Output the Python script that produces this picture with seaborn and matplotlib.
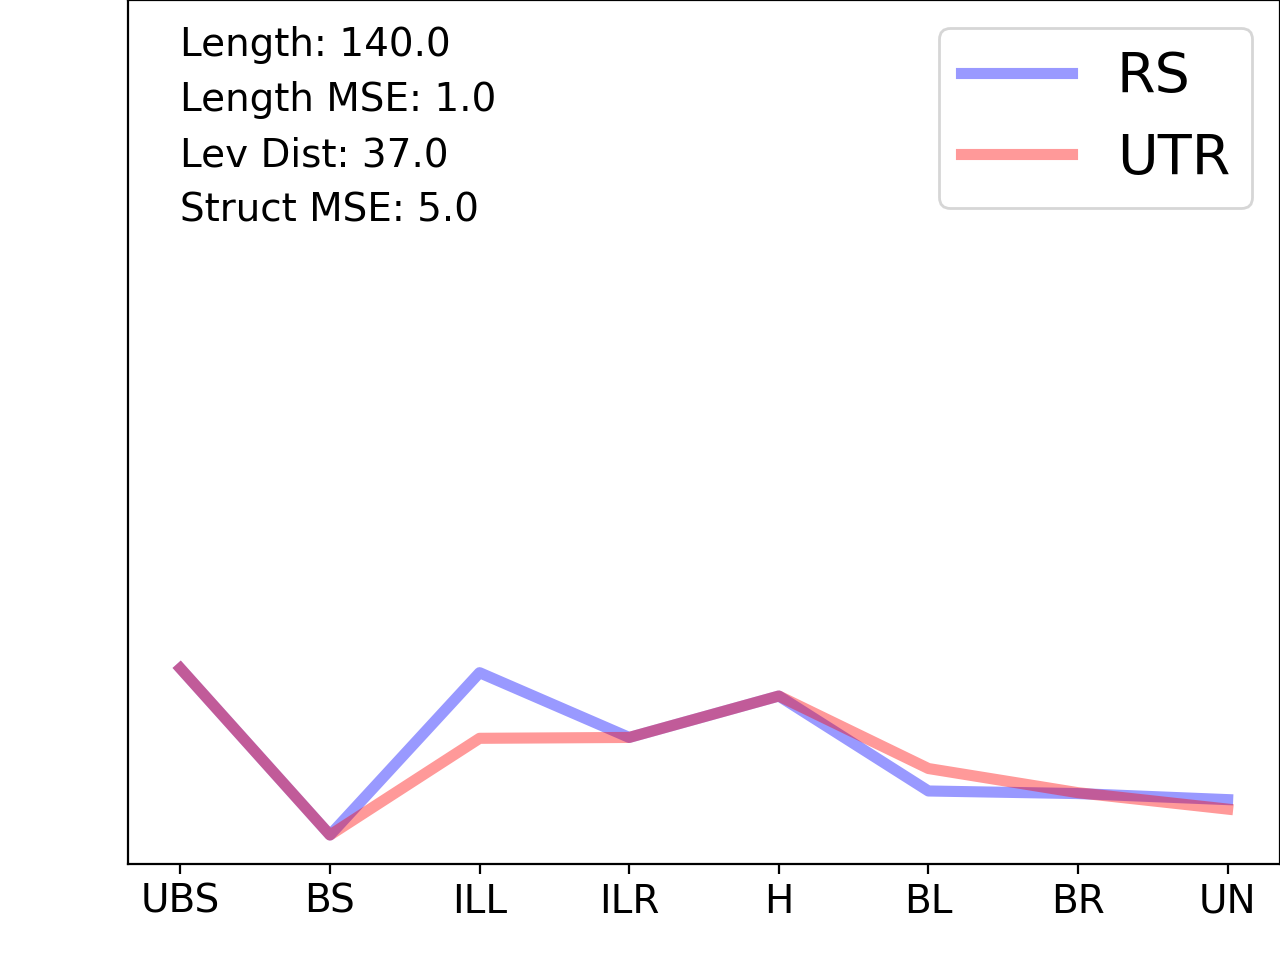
import pandas as pd
import matplotlib
matplotlib.use('Agg')
import matplotlib.pyplot as plt
import seaborn as sns

# positions along the sequence
categories = ['UBS', 'BS', 'ILL', 'ILR', 'H', 'BL', 'BR', 'UN']

# per-position values (y axis 0..1, hidden)
rs_values = [0.226, 0.033, 0.221, 0.146, 0.194, 0.084, 0.081, 0.074]
utr_values = [0.226, 0.033, 0.145, 0.146, 0.194, 0.110, 0.082, 0.063]

series_names = ['RS', 'UTR']
series_colors = {'RS': 'blue', 'UTR': 'red'}

stats_lines = [
    'Length: 140.0',
    'Length MSE: 1.0',
    'Lev Dist: 37.0',
    'Struct MSE: 5.0',
]


def build_frame():
    rows = []
    for name, vals in zip(series_names, [rs_values, utr_values]):
        for cat, v in zip(categories, vals):
            rows.append({'position': cat, 'value': v, 'series': name})
    return pd.DataFrame(rows)


def main():
    df = build_frame()

    fig = plt.figure(figsize=(6.4, 4.8), dpi=200)
    ax = fig.add_axes([0.1, 0.1005, 0.9, 0.8995])

    sns.lineplot(data=df, x='position', y='value', hue='series',
                 palette=series_colors, alpha=0.4, linewidth=4,
                 sort=False, ax=ax)

    ax.set_ylim(0, 1)
    ax.set_yticks([])
    ax.set_xlabel('')
    ax.set_ylabel('')
    ax.tick_params(axis='x', labelsize=14)

    # summary text in the upper-left corner
    ys = [0.948, 0.884, 0.820, 0.756]
    for txt, y in zip(stats_lines, ys):
        ax.text(0, y, txt, fontsize=14, va='center', ha='left',
                transform=ax.get_xaxis_transform())

    ax.legend(loc='upper right', fontsize=20)

    fig.savefig('out.png', dpi=200)


if __name__ == "__main__":
    main()
